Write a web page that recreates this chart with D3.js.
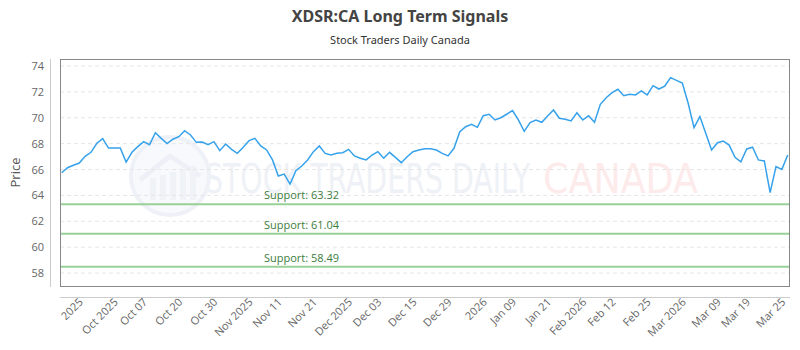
<!DOCTYPE html>
<html>
<head>
<meta charset="utf-8">
<script src="https://cdn.jsdelivr.net/npm/d3@7"></script>
<style>
  body { margin: 0; background: #fff; }
  svg { display: block; font-family: "Open Sans", sans-serif; }
</style>
</head>
<body>
<script>
// daily closes, one per trading day
let prices = [
  65.75, 66.14, 66.33, 66.5, 67.02, 67.33, 68.03, 68.38, 67.66, 67.66,
  67.66, 66.58, 67.33, 67.77, 68.15, 67.92, 68.85, 68.41, 68.0, 68.34,
  68.54, 69.0, 68.67, 68.1, 68.13, 67.92, 68.15, 67.46, 67.97, 67.56,
  67.25, 67.72, 68.23, 68.41, 67.82, 67.51, 66.74, 65.5, 65.65, 64.88,
  65.91, 66.27, 66.74, 67.38, 67.82, 67.25, 67.12, 67.25, 67.3, 67.56,
  67.05, 66.87, 66.74, 67.12, 67.38, 66.87, 67.33, 66.94, 66.53, 66.99,
  67.38, 67.51, 67.61, 67.61, 67.51, 67.25, 67.05, 67.64, 68.92, 69.31,
  69.49, 69.26, 70.16, 70.27, 69.83, 70.0, 70.27, 70.55, 69.83, 68.95,
  69.62, 69.83, 69.65, 70.14, 70.6, 69.96, 69.88, 69.75, 70.39, 69.83,
  70.16, 69.65, 71.04, 71.55, 71.94, 72.2, 71.7, 71.81, 71.76, 72.07,
  71.76, 72.48, 72.22, 72.45, 73.1, 72.89, 72.68, 71.12, 69.24, 70.09,
  68.8, 67.51, 68.07, 68.2, 67.89, 66.94, 66.6, 67.59, 67.72, 66.74,
  66.66, 64.21, 66.22, 66.01, 67.12
];

let tickLabels = ["2025", "Oct 2025", "Oct 07", "Oct 20", "Oct 30", "Nov 2025", "Nov 11", "Nov 21",
  "Dec 2025", "Dec 03", "Dec 15", "Dec 29", "2026", "Jan 09", "Jan 21", "Feb 2026", "Feb 12",
  "Feb 25", "Mar 2026", "Mar 09", "Mar 19", "Mar 25"];
let tickIndex = [3, 9, 14, 20, 26, 32, 37, 43, 49, 54, 60, 66, 72, 77, 83, 89, 94, 100, 106, 112, 117, 123];

let supports = [63.32, 61.04, 58.49];
let yTicks = [58, 60, 62, 64, 66, 68, 70, 72, 74];

let width = 800, height = 350;
let pLeft = 60, pRight = 790, pTop = 59, pBottom = 286;

let svg = d3.select("body").append("svg")
  .attr("width", width).attr("height", height);

let x = d3.scaleLinear().domain([0, prices.length - 1]).range([pLeft + 1.7, pRight - 2.3]);
let y = d3.scaleLinear().domain([57, 74.54]).range([pBottom, pTop]);

// title
svg.append("text").attr("x", 400).attr("y", 22)
  .attr("text-anchor", "middle").style("font-size", "16px").style("font-weight", "bold")
  .style("fill", "#444").style("font-family", "'Noto Sans', sans-serif")
  .text("XDSR:CA Long Term Signals");
svg.append("text").attr("x", 400).attr("y", 44)
  .attr("text-anchor", "middle").style("font-size", "11px").style("fill", "#333")
  .style("font-family", "'Noto Sans', sans-serif")
  .text("Stock Traders Daily Canada");

// watermark
let wm = svg.append("g").attr("class", "watermark").style("opacity", 0.5);
wm.append("circle").attr("cx", 170).attr("cy", 176).attr("r", 39)
  .style("fill", "#f3f5fa").style("stroke", "#dfe5f0").style("stroke-width", 4);
wm.append("path").attr("d", "M140,180 L170,156 L200,176")
  .style("fill", "none").style("stroke", "#dde3ee").style("stroke-width", 5);
[150, 160, 170, 180, 190].forEach(function(bx, i) {
  wm.append("rect").attr("x", bx).attr("y", 178 - i * 3).attr("width", 6).attr("height", 22 + i * 3)
    .style("fill", "#e1e6ef");
});
wm.append("text").attr("x", 205).attr("y", 193)
  .attr("textLength", 325).attr("lengthAdjust", "spacingAndGlyphs")
  .style("font-size", "40px").style("fill", "#dfe5ef").style("font-family", "'DejaVu Sans Condensed', sans-serif")
  .text("STOCK TRADERS DAILY");
wm.append("text").attr("x", 543).attr("y", 193)
  .attr("textLength", 155).attr("lengthAdjust", "spacingAndGlyphs")
  .style("font-size", "40px").style("fill", "#fcd8d8").style("font-family", "'DejaVu Sans', sans-serif")
  .text("CANADA");

// grid
svg.append("g").selectAll("line").data(yTicks).enter().append("line")
  .attr("x1", pLeft).attr("x2", pRight)
  .attr("y1", function(d) { return y(d); }).attr("y2", function(d) { return y(d); })
  .style("stroke", "#e6e6e6").style("stroke-dasharray", "4,3");

// plot border
svg.append("rect").attr("x", pLeft + 0.5).attr("y", pTop + 0.5)
  .attr("width", pRight - pLeft - 1).attr("height", pBottom - pTop)
  .style("fill", "none").style("stroke", "#888");

// y axis
let yAxis = svg.append("g").attr("transform", "translate(50,0)")
  .call(d3.axisLeft(y).tickValues(yTicks).tickSize(0).tickPadding(6));
yAxis.select(".domain").attr("d", "M0.5," + pTop + "V" + (pBottom + 1)).style("stroke", "#ccc");
yAxis.selectAll("text").style("font-size", "11px").style("fill", "#666").style("font-family", "'Open Sans', sans-serif");

svg.append("text").attr("transform", "translate(20," + ((pTop + pBottom) / 2) + ") rotate(-90)")
  .attr("text-anchor", "middle").style("font-size", "13px").style("fill", "#555")
  .text("Price");

// x axis
let xAxis = svg.append("g").attr("transform", "translate(0,297)")
  .call(d3.axisBottom(x).tickValues(tickIndex)
    .tickFormat(function(d, i) { return tickLabels[i]; }).tickSize(0));
xAxis.select(".domain").attr("d", "M" + pLeft + ",0.5H" + pRight).style("stroke", "#ccc");
xAxis.selectAll("text")
  .attr("text-anchor", "end").attr("dy", "0.35em")
  .attr("transform", "translate(-1,1) rotate(-45)")
  .style("font-size", "11px").style("fill", "#666").style("font-family", "'Open Sans', sans-serif");

// support lines
let sup = svg.append("g").selectAll("g").data(supports).enter().append("g");
sup.append("line").attr("x1", pLeft + 1).attr("x2", pRight - 1)
  .attr("y1", function(d) { return y(d); }).attr("y2", function(d) { return y(d); })
  .style("stroke", "#98d098").style("stroke-width", 2);
sup.append("text").attr("x", 264).attr("y", function(d) { return y(d) - 5; })
  .style("font-size", "11px").style("fill", "#3c7d3c")
  .text(function(d) { return "Support: " + d.toFixed(2); });

// price line
let line = d3.line().x(function(d, i) { return x(i); }).y(function(d) { return y(d); });
svg.append("path").datum(prices).attr("d", line)
  .style("fill", "none").style("stroke", "#36a2eb").style("stroke-width", 1.5);
</script>
</body>
</html>
